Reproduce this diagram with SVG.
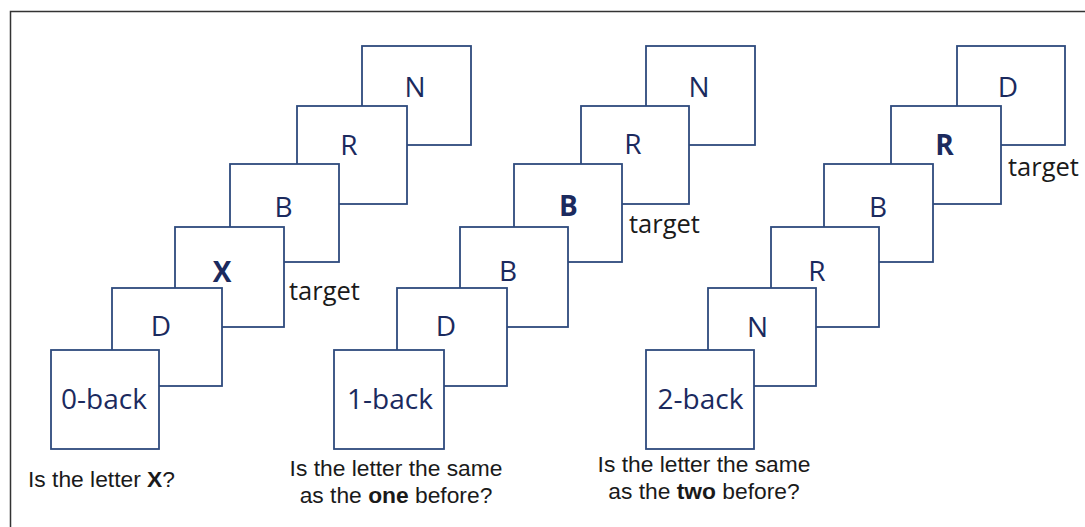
<svg xmlns="http://www.w3.org/2000/svg" width="1085" height="527" viewBox="0 0 1085 527">
  <style>
    .box { fill: #ffffff; stroke: #2e4a7d; stroke-width: 1.8; }
    .ltr { font-family: "Open Sans", "Liberation Sans", sans-serif; font-size: 28px; fill: #1b2a5e; text-anchor: middle; }
    .b { font-weight: bold; }
    .tgt { font-family: "Open Sans", "Liberation Sans", sans-serif; font-size: 25.5px; fill: #1a1a1a; }
    .q { font-family: "Liberation Sans", Arial, sans-serif; font-size: 22.8px; fill: #1a1a1a; }
    .frame { stroke: #333333; stroke-width: 1.5; fill: none; }
  </style>
  <rect x="0" y="0" width="1085" height="527" fill="#ffffff"/>
  <path class="frame" d="M10.5,527 L10.5,11.5 L1085,11.5"/>

  <g id="connectors"/>

  <!-- Panel 1: 0-back -->
  <g id="p1-N"><rect class="box" x="362" y="46" width="109" height="99"/><text class="ltr" x="415" y="97">N</text></g>
  <g id="p1-R"><rect class="box" x="297" y="106" width="110" height="98"/><text class="ltr" x="349" y="155">R</text></g>
  <g id="p1-B"><rect class="box" x="230" y="164" width="109" height="98"/><text class="ltr" x="283.5" y="217">B</text></g>
  <g id="p1-X"><rect class="box" x="175" y="227" width="109" height="100"/><text class="ltr b" x="222" y="282">X</text></g>
  <g id="p1-D"><rect class="box" x="112" y="288" width="110" height="98"/><text class="ltr" x="161" y="336">D</text></g>
  <g id="p1-0back"><rect class="box" x="51" y="350" width="108" height="99"/><text class="ltr" x="104" y="409">0-back</text></g>
  <g id="p1-target"><text class="tgt" x="289" y="300">target</text></g>
  <g id="p1-question"><text class="q" x="28" y="487">Is the letter <tspan font-weight="bold">X</tspan>?</text></g>

  <!-- Panel 2: 1-back -->
  <g id="p2-N"><rect class="box" x="646" y="46" width="109" height="99"/><text class="ltr" x="699" y="97">N</text></g>
  <g id="p2-R"><rect class="box" x="581" y="106" width="108" height="98"/><text class="ltr" x="633" y="154">R</text></g>
  <g id="p2-Bt"><rect class="box" x="514" y="164" width="108" height="98"/><text class="ltr b" x="568.5" y="216">B</text></g>
  <g id="p2-B"><rect class="box" x="460" y="227" width="108" height="100"/><text class="ltr" x="508" y="281">B</text></g>
  <g id="p2-D"><rect class="box" x="397" y="288" width="110" height="98"/><text class="ltr" x="446" y="336">D</text></g>
  <g id="p2-1back"><rect class="box" x="334" y="350" width="110" height="99"/><text class="ltr" x="390" y="409">1-back</text></g>
  <g id="p2-target"><text class="tgt" x="629" y="233">target</text></g>
  <g id="p2-question">
    <text class="q" x="396" y="476" text-anchor="middle">Is the letter the same</text>
    <text class="q" x="396" y="503" text-anchor="middle">as the <tspan font-weight="bold">one</tspan> before?</text>
  </g>

  <!-- Panel 3: 2-back -->
  <g id="p3-D"><rect class="box" x="957" y="46" width="108" height="99"/><text class="ltr" x="1008" y="97">D</text></g>
  <g id="p3-Rt"><rect class="box" x="891" y="106" width="110" height="98"/><text class="ltr b" x="944.5" y="155">R</text></g>
  <g id="p3-B"><rect class="box" x="824" y="164" width="109" height="98"/><text class="ltr" x="878" y="217">B</text></g>
  <g id="p3-R"><rect class="box" x="771" y="227" width="108" height="100"/><text class="ltr" x="817" y="281">R</text></g>
  <g id="p3-N"><rect class="box" x="708" y="288" width="108" height="98"/><text class="ltr" x="757.5" y="337">N</text></g>
  <g id="p3-2back"><rect class="box" x="646" y="350" width="108" height="99"/><text class="ltr" x="700.5" y="409">2-back</text></g>
  <g id="p3-target"><text class="tgt" x="1008" y="176">target</text></g>
  <g id="p3-question">
    <text class="q" x="704" y="472" text-anchor="middle">Is the letter the same</text>
    <text class="q" x="704" y="499" text-anchor="middle">as the <tspan font-weight="bold">two</tspan> before?</text>
  </g>
</svg>
